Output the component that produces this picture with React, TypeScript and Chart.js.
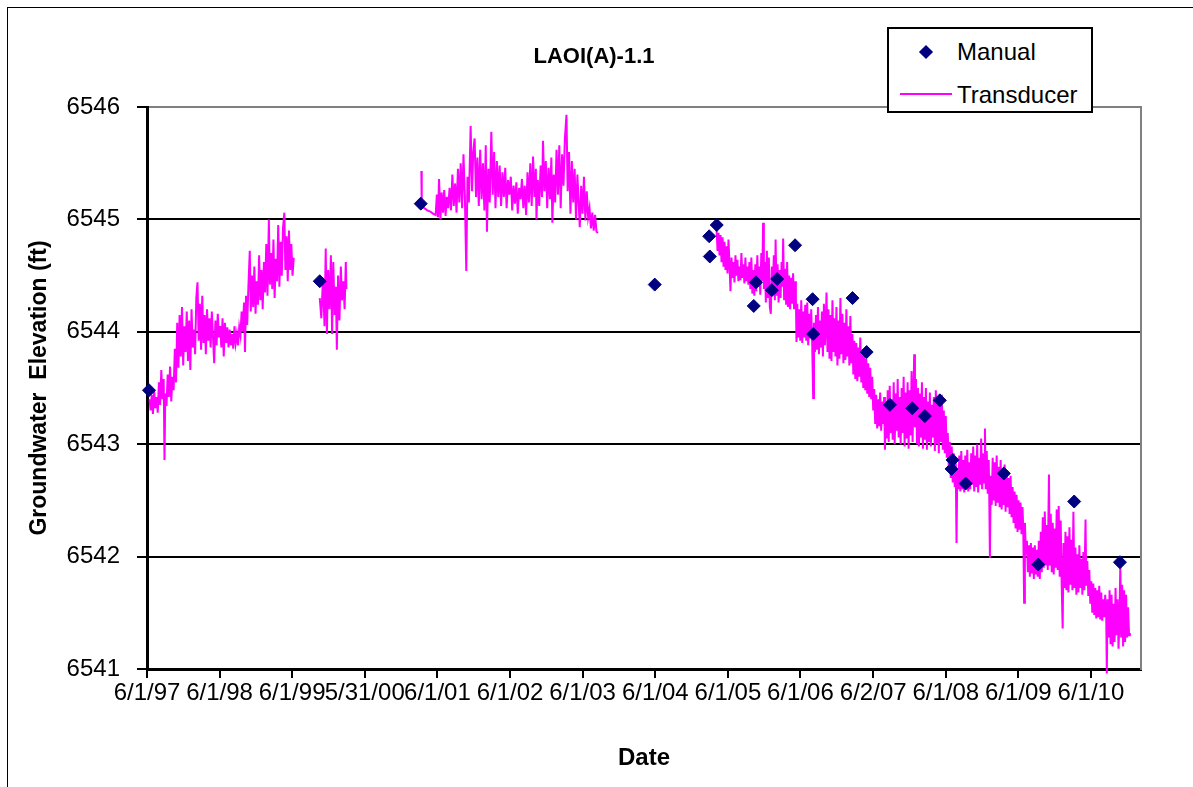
import React, { useEffect, useRef } from 'react';
import { Chart, registerables } from 'chart.js';

Chart.register(...registerables);

const FONT = 'Arial, "Liberation Sans", sans-serif';

// x values are days since 6/1/1997
const xTickDays = [0, 365, 730, 1095, 1461, 1826, 2191, 2557, 2922, 3287, 3653, 4018, 4383, 4748];
const xTickLabels = ['6/1/97', '6/1/98', '6/1/99', '5/31/00', '6/1/01', '6/1/02', '6/1/03', '6/1/04', '6/1/05', '6/1/06', '6/2/07', '6/1/08', '6/1/09', '6/1/10'];
const yTicks = [6541, 6542, 6543, 6544, 6545, 6546];

const manualDays = [10, 869, 1377, 2554, 2828, 2831, 2866, 3052, 3063, 3143, 3170, 3260, 3348, 3351, 3549, 3620, 3737, 3849, 3913, 3988, 4047, 4052, 4118, 4310, 4483, 4664, 4894];
const manualElev = [6543.48, 6544.45, 6545.14, 6544.42, 6544.85, 6544.67, 6544.95, 6544.23, 6544.44, 6544.37, 6544.47, 6544.77, 6544.29, 6543.98, 6544.30, 6543.82, 6543.35, 6543.32, 6543.25, 6543.39, 6542.78, 6542.86, 6542.65, 6542.74, 6541.93, 6542.49, 6541.95];

const transducer1997_99 = [
  [13, 6543.40], [18, 6543.30], [24, 6543.44], [30, 6543.27], [36, 6543.48], [42, 6543.32], [48, 6543.42], [54, 6543.28],
  [60, 6543.55], [66, 6543.35], [72, 6543.66], [78, 6543.40], [84, 6543.58], [88, 6542.86], [92, 6543.45], [98, 6543.34],
  [104, 6543.62], [110, 6543.42], [116, 6543.69], [122, 6543.38], [128, 6543.60], [134, 6543.48], [140, 6543.85], [146, 6543.55],
  [152, 6544.08], [158, 6543.68], [164, 6544.15], [170, 6543.78], [176, 6544.22], [182, 6543.70], [188, 6544.05], [194, 6543.82],
  [200, 6544.18], [206, 6543.74], [212, 6544.10], [218, 6543.66], [224, 6544.20], [230, 6543.86], [236, 6544.02], [242, 6543.80],
  [248, 6544.30], [254, 6544.44], [260, 6543.92], [266, 6544.25], [272, 6543.84], [278, 6544.32], [284, 6543.90], [290, 6544.15],
  [296, 6543.80], [302, 6544.20], [308, 6543.92], [314, 6544.12], [320, 6543.86], [326, 6544.18], [332, 6543.95], [338, 6543.72],
  [344, 6544.10], [350, 6543.88], [356, 6544.16], [362, 6543.95], [368, 6544.05], [374, 6543.86], [380, 6544.12], [386, 6543.78],
  [392, 6544.08], [398, 6543.90], [404, 6544.04], [410, 6543.86], [416, 6544.02], [422, 6543.88], [428, 6543.98], [434, 6543.85],
  [440, 6544.05], [446, 6543.90], [452, 6543.98], [458, 6543.88], [464, 6544.04], [470, 6543.97], [476, 6544.18], [482, 6544.00],
  [488, 6544.26], [493, 6543.82], [498, 6544.32], [504, 6544.06], [510, 6544.40], [517, 6544.72], [522, 6544.18], [528, 6544.50],
  [534, 6544.22], [540, 6544.58], [546, 6544.16], [552, 6544.45], [558, 6544.24], [564, 6544.68], [570, 6544.28], [576, 6544.55],
  [582, 6544.20], [588, 6544.62], [594, 6544.35], [600, 6544.78], [606, 6544.32], [613, 6545.00], [618, 6544.42], [624, 6544.70],
  [630, 6544.38], [636, 6544.82], [642, 6544.30], [648, 6544.65], [654, 6544.45], [660, 6544.95], [666, 6544.40], [672, 6544.80],
  [678, 6544.50], [684, 6544.92], [691, 6545.06], [696, 6544.55], [702, 6544.85], [708, 6544.45], [714, 6544.90], [720, 6544.55],
  [726, 6544.78], [732, 6544.50], [738, 6544.66],
];

const transducer1999_00 = [
  [869, 6544.30], [877, 6544.12], [885, 6544.48], [893, 6544.05], [899, 6544.74], [905, 6543.98], [911, 6544.55], [918, 6544.20],
  [925, 6544.68], [931, 6543.98], [937, 6544.62], [944, 6544.15], [950, 6544.40], [955, 6543.84], [961, 6544.50], [968, 6544.10],
  [975, 6544.58], [981, 6544.28], [988, 6544.45], [994, 6544.20], [1000, 6544.62], [1003, 6544.38],
];

const transducer2001_03 = [
  [1380, 6545.43], [1382, 6545.12], [1395, 6545.10], [1410, 6545.08], [1425, 6545.07], [1440, 6545.05], [1452, 6545.04], [1458, 6545.22],
  [1464, 6545.02], [1469, 6545.36], [1476, 6545.00], [1482, 6545.24], [1489, 6545.06], [1495, 6545.26], [1502, 6545.03], [1508, 6545.20],
  [1515, 6545.10], [1522, 6545.28], [1529, 6545.08], [1536, 6545.40], [1543, 6545.12], [1550, 6545.32], [1557, 6545.06], [1564, 6545.45],
  [1571, 6545.15], [1578, 6545.50], [1585, 6545.10], [1592, 6545.58], [1599, 6545.20], [1606, 6544.54], [1612, 6545.38], [1619, 6545.15],
  [1628, 6545.83], [1635, 6545.25], [1641, 6545.60], [1648, 6545.72], [1655, 6545.20], [1662, 6545.55], [1669, 6545.12], [1676, 6545.62],
  [1683, 6545.18], [1690, 6545.50], [1697, 6545.08], [1704, 6545.66], [1710, 6544.89], [1717, 6545.45], [1724, 6545.15], [1732, 6545.78],
  [1739, 6545.22], [1746, 6545.60], [1753, 6545.10], [1760, 6545.52], [1767, 6545.20], [1774, 6545.48], [1781, 6545.12], [1788, 6545.42],
  [1795, 6545.20], [1802, 6545.46], [1809, 6545.10], [1816, 6545.35], [1823, 6545.22], [1830, 6545.38], [1837, 6545.08], [1844, 6545.30],
  [1851, 6545.14], [1858, 6545.33], [1865, 6545.05], [1872, 6545.28], [1879, 6545.18], [1886, 6545.36], [1893, 6545.10], [1900, 6545.30],
  [1907, 6545.04], [1914, 6545.42], [1921, 6545.15], [1928, 6545.50], [1935, 6545.12], [1942, 6545.56], [1949, 6545.20], [1956, 6545.45],
  [1959, 6545.00], [1966, 6545.35], [1973, 6545.12], [1980, 6545.48], [1987, 6545.20], [1992, 6545.70], [1999, 6545.25], [2006, 6545.52],
  [2013, 6545.10], [2020, 6545.46], [2027, 6545.18], [2034, 6545.55], [2039, 6544.97], [2046, 6545.40], [2053, 6545.15], [2060, 6545.62],
  [2067, 6545.22], [2074, 6545.66], [2081, 6545.10], [2088, 6545.58], [2095, 6545.30], [2102, 6545.72], [2110, 6545.93], [2116, 6545.25],
  [2123, 6545.60], [2130, 6545.05], [2137, 6545.52], [2144, 6545.15], [2151, 6545.45], [2158, 6545.00], [2165, 6545.40], [2172, 6545.12],
  [2177, 6544.93], [2184, 6545.30], [2191, 6545.05], [2198, 6545.38], [2205, 6544.99], [2212, 6545.25], [2219, 6545.02], [2226, 6545.10],
  [2233, 6544.92], [2240, 6545.06], [2247, 6544.90], [2254, 6545.04], [2261, 6544.89], [2269, 6544.88],
];

const transducer2005_10 = [
  [2865, 6544.91], [2870, 6544.72], [2875, 6544.88], [2880, 6544.68], [2885, 6544.86], [2890, 6544.62], [2895, 6544.84], [2900, 6544.58],
  [2905, 6544.80], [2910, 6544.55], [2915, 6544.76], [2920, 6544.52], [2925, 6544.82], [2930, 6544.60], [2935, 6544.36], [2940, 6544.66],
  [2945, 6544.48], [2950, 6544.62], [2955, 6544.44], [2960, 6544.68], [2965, 6544.50], [2970, 6544.64], [2975, 6544.45], [2980, 6544.58],
  [2985, 6544.46], [2990, 6544.70], [2995, 6544.48], [3000, 6544.60], [3005, 6544.43], [3010, 6544.66], [3015, 6544.45], [3020, 6544.58],
  [3025, 6544.42], [3030, 6544.62], [3035, 6544.38], [3040, 6544.66], [3045, 6544.34], [3050, 6544.55], [3055, 6544.32], [3060, 6544.60],
  [3065, 6544.36], [3070, 6544.68], [3075, 6544.40], [3080, 6544.58], [3085, 6544.33], [3090, 6544.70], [3095, 6544.45], [3099, 6544.97],
  [3103, 6544.38], [3108, 6544.62], [3113, 6544.26], [3118, 6544.72], [3123, 6544.30], [3128, 6544.66], [3133, 6544.22], [3138, 6544.16],
  [3143, 6544.58], [3148, 6544.35], [3153, 6544.68], [3158, 6544.28], [3162, 6544.82], [3167, 6544.32], [3172, 6544.60], [3177, 6544.26],
  [3182, 6544.55], [3187, 6544.30], [3192, 6544.62], [3196, 6544.40], [3200, 6544.83], [3205, 6544.28], [3210, 6544.56], [3215, 6544.24],
  [3220, 6544.62], [3225, 6544.22], [3230, 6544.50], [3235, 6544.20], [3240, 6544.48], [3245, 6544.25], [3250, 6544.52], [3255, 6544.20],
  [3260, 6544.45], [3264, 6544.30], [3267, 6543.91], [3271, 6544.25], [3276, 6543.95], [3281, 6544.20], [3286, 6543.92], [3291, 6544.28],
  [3296, 6543.90], [3301, 6544.18], [3306, 6543.95], [3311, 6544.24], [3316, 6543.92], [3321, 6544.26], [3326, 6543.88], [3331, 6544.16],
  [3336, 6543.94], [3341, 6544.20], [3346, 6543.90], [3351, 6543.41], [3355, 6544.08], [3360, 6543.82], [3365, 6544.15], [3370, 6543.84],
  [3375, 6544.22], [3380, 6543.80], [3385, 6544.10], [3390, 6543.86], [3395, 6544.18], [3400, 6543.78], [3405, 6544.25], [3410, 6543.88],
  [3414, 6544.05], [3418, 6544.35], [3423, 6543.82], [3428, 6544.20], [3433, 6543.76], [3438, 6544.15], [3443, 6543.74], [3448, 6544.28],
  [3453, 6543.82], [3458, 6544.12], [3463, 6543.78], [3468, 6544.22], [3473, 6543.70], [3478, 6544.10], [3483, 6543.76], [3488, 6544.30],
  [3493, 6543.80], [3498, 6544.16], [3503, 6543.72], [3508, 6544.08], [3513, 6543.75], [3518, 6544.20], [3523, 6543.78], [3528, 6544.05],
  [3533, 6543.70], [3538, 6544.14], [3543, 6543.72], [3548, 6543.98], [3553, 6543.62], [3558, 6543.92], [3563, 6543.58], [3568, 6543.90],
  [3573, 6543.56], [3578, 6543.86], [3583, 6543.60], [3588, 6543.95], [3593, 6543.55], [3598, 6543.80], [3603, 6543.50], [3608, 6543.84],
  [3613, 6543.48], [3618, 6543.76], [3623, 6543.45], [3628, 6543.72], [3633, 6543.42], [3638, 6543.68], [3643, 6543.40], [3648, 6543.60],
  [3653, 6543.30], [3658, 6543.49], [3663, 6543.18], [3668, 6543.44], [3673, 6543.14], [3678, 6543.40], [3683, 6543.16], [3688, 6543.46],
  [3693, 6543.12], [3698, 6543.38], [3703, 6543.18], [3708, 6543.42], [3712, 6542.95], [3716, 6543.35], [3721, 6543.05], [3726, 6543.48],
  [3731, 6543.02], [3736, 6543.52], [3741, 6543.10], [3746, 6543.40], [3751, 6543.04], [3756, 6543.55], [3761, 6543.00], [3766, 6543.45],
  [3771, 6543.12], [3776, 6543.58], [3781, 6543.06], [3786, 6543.42], [3791, 6543.00], [3796, 6543.50], [3801, 6543.10], [3806, 6543.60],
  [3811, 6542.98], [3816, 6543.46], [3821, 6543.05], [3826, 6543.55], [3831, 6542.96], [3836, 6543.48], [3841, 6543.08], [3846, 6543.65],
  [3851, 6543.02], [3855, 6543.40], [3859, 6543.80], [3863, 6543.15], [3868, 6543.58], [3873, 6543.00], [3878, 6543.50], [3883, 6542.98],
  [3888, 6543.45], [3893, 6543.06], [3898, 6543.55], [3903, 6542.96], [3908, 6543.42], [3913, 6543.04], [3918, 6543.50], [3923, 6542.95],
  [3928, 6543.38], [3933, 6543.02], [3938, 6543.46], [3943, 6542.98], [3948, 6543.35], [3953, 6543.06], [3958, 6543.42], [3963, 6542.94],
  [3968, 6543.48], [3973, 6543.00], [3978, 6543.36], [3983, 6542.92], [3988, 6543.40], [3993, 6543.02], [3998, 6543.44], [4003, 6542.95],
  [4008, 6543.30], [4013, 6542.92], [4018, 6543.25], [4023, 6542.88], [4028, 6543.10], [4033, 6542.80], [4038, 6543.02], [4043, 6542.70],
  [4048, 6542.98], [4053, 6542.66], [4058, 6542.92], [4063, 6542.62], [4068, 6542.85], [4072, 6542.12], [4076, 6542.78], [4081, 6542.60],
  [4086, 6542.90], [4091, 6542.58], [4096, 6542.94], [4101, 6542.60], [4106, 6542.86], [4111, 6542.57], [4116, 6542.90], [4121, 6542.62],
  [4126, 6542.95], [4131, 6542.58], [4136, 6542.84], [4141, 6542.60], [4146, 6542.92], [4151, 6542.64], [4156, 6542.98], [4161, 6542.58],
  [4166, 6542.90], [4171, 6542.62], [4176, 6543.00], [4181, 6542.57], [4186, 6542.88], [4191, 6542.64], [4196, 6543.05], [4201, 6542.60],
  [4206, 6542.92], [4211, 6542.66], [4215, 6543.14], [4219, 6542.60], [4224, 6542.94], [4229, 6542.56], [4234, 6542.86], [4237, 6542.50],
  [4240, 6541.99], [4244, 6542.72], [4249, 6542.46], [4254, 6542.88], [4259, 6542.50], [4264, 6542.84], [4269, 6542.45], [4274, 6542.90],
  [4279, 6542.48], [4284, 6542.80], [4289, 6542.44], [4294, 6542.86], [4299, 6542.42], [4304, 6542.78], [4309, 6542.46], [4314, 6542.82],
  [4319, 6542.40], [4324, 6542.76], [4329, 6542.44], [4334, 6542.70], [4339, 6542.38], [4344, 6542.72], [4349, 6542.35], [4354, 6542.62],
  [4359, 6542.30], [4364, 6542.58], [4369, 6542.25], [4374, 6542.55], [4379, 6542.22], [4384, 6542.50], [4389, 6542.24], [4394, 6542.48],
  [4399, 6542.20], [4404, 6542.44], [4408, 6542.22], [4412, 6541.59], [4416, 6542.30], [4421, 6542.02], [4426, 6542.14], [4431, 6541.86],
  [4436, 6542.10], [4441, 6541.82], [4446, 6542.12], [4451, 6541.85], [4456, 6542.08], [4461, 6541.80], [4466, 6542.10], [4471, 6541.84],
  [4476, 6542.06], [4481, 6541.82], [4486, 6542.14], [4491, 6541.80], [4496, 6542.22], [4501, 6541.86], [4506, 6542.35], [4511, 6541.90],
  [4516, 6542.40], [4521, 6541.92], [4526, 6542.28], [4531, 6541.88], [4537, 6542.73], [4541, 6541.92], [4546, 6542.38], [4551, 6541.86],
  [4556, 6542.30], [4561, 6541.84], [4566, 6542.25], [4571, 6541.90], [4576, 6542.42], [4581, 6541.88], [4586, 6542.45], [4591, 6541.82],
  [4596, 6542.32], [4601, 6541.75], [4606, 6541.36], [4610, 6542.12], [4615, 6541.72], [4620, 6542.22], [4625, 6541.70], [4630, 6542.18],
  [4635, 6541.68], [4640, 6542.26], [4645, 6541.75], [4650, 6542.15], [4655, 6541.70], [4660, 6542.40], [4665, 6541.72], [4670, 6542.08],
  [4675, 6541.66], [4680, 6542.02], [4685, 6541.68], [4690, 6542.10], [4695, 6541.72], [4700, 6541.98], [4705, 6541.66], [4710, 6542.04],
  [4715, 6541.70], [4721, 6542.33], [4725, 6541.74], [4730, 6541.96], [4735, 6541.65], [4740, 6541.88], [4745, 6541.58], [4750, 6541.78],
  [4755, 6541.50], [4760, 6541.76], [4765, 6541.48], [4770, 6541.72], [4775, 6541.45], [4780, 6541.70], [4785, 6541.46], [4790, 6541.74],
  [4795, 6541.44], [4800, 6541.68], [4805, 6541.43], [4810, 6541.62], [4815, 6541.46], [4820, 6541.66], [4825, 6541.48], [4828, 6540.96],
  [4832, 6541.62], [4837, 6541.28], [4842, 6541.70], [4847, 6541.22], [4852, 6541.66], [4857, 6541.20], [4862, 6541.58], [4867, 6541.24],
  [4872, 6541.72], [4877, 6541.30], [4882, 6541.62], [4887, 6541.18], [4891, 6541.40], [4896, 6541.93], [4900, 6541.28], [4905, 6541.75],
  [4910, 6541.20], [4915, 6541.70], [4920, 6541.24], [4925, 6541.66], [4930, 6541.28], [4935, 6541.55], [4940, 6541.30], [4944, 6541.32],
];

const transducerSegments = [transducer1997_99, transducer1999_00, transducer2001_03, transducer2005_10];

function buildTransducerData() {
  const out: { x: number; y: number | null }[] = [];
  transducerSegments.forEach((seg, i) => {
    seg.forEach(([x, y]) => out.push({ x, y }));
    if (i < transducerSegments.length - 1) out.push({ x: seg[seg.length - 1][0], y: null });
  });
  return out;
}

export default function App() {
  const ref = useRef<HTMLCanvasElement>(null);

  useEffect(() => {
    const canvas = ref.current;
    if (!canvas) return;
    Chart.defaults.font.family = FONT;
    Chart.defaults.color = '#000';
    const chart = new Chart(canvas, {
      type: 'line',
      data: {
        datasets: [
          {
            label: 'Manual',
            data: manualDays.map((d, i) => ({ x: d, y: manualElev[i] })),
            showLine: false,
            pointStyle: 'rectRot',
            pointRadius: 6.5,
            pointBorderWidth: 1,
            backgroundColor: '#000080',
            borderColor: '#000080',
            pointBackgroundColor: '#000080',
            pointBorderColor: '#000080',
            clip: false,
          },
          {
            label: 'Transducer',
            data: buildTransducerData(),
            borderColor: '#FF00FF',
            backgroundColor: '#FF00FF',
            borderWidth: 2,
            pointRadius: 0,
            tension: 0,
            spanGaps: false,
            clip: false,
          },
        ],
      },
      options: {
        responsive: false,
        animation: false,
        devicePixelRatio: 1,
        layout: { padding: 0 },
        plugins: {
          legend: { display: false },
          tooltip: { enabled: false },
          title: {
            display: true,
            text: 'LAOI(A)-1.1',
            color: '#000',
            font: { size: 22, weight: 'bold', family: FONT },
            padding: { top: 43.8, bottom: 36.8 },
          },
        },
        scales: {
          x: {
            type: 'linear',
            min: 0,
            max: 5000,
            afterBuildTicks: (s: any) => {
              s.ticks = xTickDays.map((v) => ({ value: v }));
            },
            afterFit: (s: any) => {
              s.height = 118;
            },
            ticks: {
              autoSkip: false,
              maxRotation: 0,
              minRotation: 0,
              padding: 1,
              color: '#000',
              font: { size: 24, family: FONT },
              callback: (_v: any, i: number) => xTickLabels[i],
            },
            grid: { drawOnChartArea: false, drawTicks: true, tickLength: 9, color: '#000', lineWidth: 2 },
            border: { display: true, color: '#000', width: 3 },
            title: {
              display: true,
              text: 'Date',
              color: '#000',
              font: { size: 24, weight: 'bold', family: FONT },
              padding: { top: 0, bottom: 14.6 },
            },
          },
          y: {
            type: 'linear',
            position: 'left',
            min: 6541,
            max: 6546,
            afterBuildTicks: (s: any) => {
              s.ticks = yTicks.map((v) => ({ value: v }));
            },
            afterFit: (s: any) => {
              s.width = 147;
            },
            ticks: {
              padding: 17,
              color: '#000',
              font: { size: 24, family: FONT },
              callback: (v: any) => String(v),
            },
            grid: {
              color: (ctx: any) => (ctx.tick && ctx.tick.value === 6546 ? '#808080' : '#000'),
              tickColor: '#000',
              lineWidth: 2,
              tickLength: 10,
              drawTicks: true,
            },
            border: { display: true, color: '#000', width: 3 },
            title: {
              display: true,
              text: 'Groundwater  Elevation (ft)',
              color: '#000',
              font: { size: 23, weight: 'bold', family: FONT },
              padding: { top: 26.2, bottom: 0 },
            },
          },
          yRight: {
            type: 'linear',
            position: 'right',
            min: 6541,
            max: 6546,
            afterFit: (s: any) => {
              s.width = 47;
            },
            ticks: { display: false },
            grid: { display: false, drawTicks: false },
            border: { display: true, color: '#808080', width: 2 },
          },
        },
      },
    } as any);
    return () => chart.destroy();
  }, []);

  return (
    <div style={{ position: 'fixed', left: 0, top: 0, width: 1193, height: 787, background: '#fff', overflow: 'hidden' }}>
      <div
        style={{
          position: 'absolute',
          left: 7,
          top: 7,
          width: 1400,
          height: 1000,
          borderLeft: '1px solid #000',
          borderTop: '1px solid #000',
        }}
      />
      <canvas
        ref={ref}
        width={1188}
        height={787}
        style={{ position: 'absolute', left: 0, top: 0, width: 1188, height: 787 }}
      />
      <div
        style={{
          position: 'absolute',
          left: 887,
          top: 27,
          width: 206,
          height: 86,
          border: '2px solid #000',
          boxSizing: 'border-box',
          background: '#fff',
        }}
      />
      <div
        style={{
          position: 'absolute',
          left: 921,
          top: 46.5,
          width: 10,
          height: 10,
          background: '#000080',
          transform: 'rotate(45deg)',
        }}
      />
      <div
        style={{
          position: 'absolute',
          left: 957,
          top: 38,
          fontFamily: FONT,
          fontSize: 24,
          lineHeight: '28px',
          color: '#000',
          whiteSpace: 'nowrap',
        }}
      >
        Manual
      </div>
      <div style={{ position: 'absolute', left: 900, top: 93, width: 52, height: 2, background: '#FF00FF' }} />
      <div
        style={{
          position: 'absolute',
          left: 957,
          top: 81,
          fontFamily: FONT,
          fontSize: 24,
          lineHeight: '28px',
          color: '#000',
          whiteSpace: 'nowrap',
        }}
      >
        Transducer
      </div>
    </div>
  );
}
